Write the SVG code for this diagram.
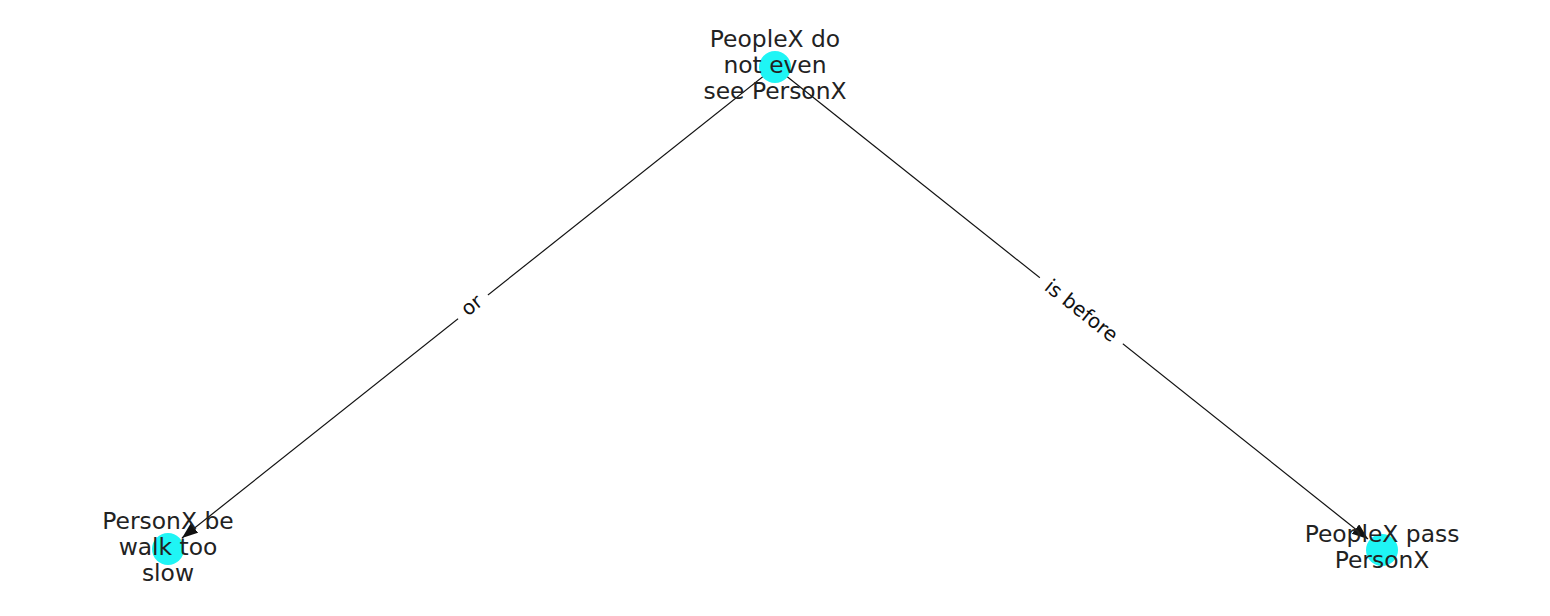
<svg xmlns="http://www.w3.org/2000/svg" width="1550" height="616" viewBox="0 0 1550 616">
<style>
.node circle { fill: #1ff5f5; }
.node text { font-family: "DejaVu Sans", sans-serif; font-size: 23.4px; fill: #222; text-anchor: middle; }
.edge line { stroke: #111; stroke-width: 1.2; }
.elabel rect { fill: #fff; }
.elabel text { font-family: "DejaVu Sans", sans-serif; font-size: 20px; fill: #111; text-anchor: middle; }
</style>
<defs>
<marker id="arr" markerUnits="userSpaceOnUse" markerWidth="18" markerHeight="14" refX="16" refY="6" orient="auto">
<path d="M0,0 L16,6 L0,12 Z" fill="#111"/>
</marker>
</defs>
<rect width="1550" height="616" fill="#fff"/>
<g id="edges">
<g class="edge"><line x1="775" y1="67" x2="182" y2="538" marker-end="url(#arr)"/></g>
<g class="edge"><line x1="775" y1="67" x2="1368" y2="539" marker-end="url(#arr)"/></g>
<g class="elabel" transform="translate(471.5,305) rotate(-38.5)"><rect x="-19" y="-12" width="38" height="24"/><text y="7">or</text></g>
<g class="elabel" transform="translate(1081.5,310.5) rotate(38.6)"><rect x="-53" y="-12" width="106" height="24"/><text y="7">is before</text></g>
</g>
<g id="n_top" class="node"><circle cx="775" cy="67" r="16"/><text x="775" y="47">PeopleX do</text><text x="775" y="73">not even</text><text x="775" y="99">see PersonX</text></g>
<g id="n_left" class="node"><circle cx="168" cy="549" r="16"/><text x="168" y="529">PersonX be</text><text x="168" y="555">walk too</text><text x="168" y="581">slow</text></g>
<g id="n_right" class="node"><circle cx="1382" cy="550" r="16"/><text x="1382" y="542">PeopleX pass</text><text x="1382" y="568">PersonX</text></g>
</svg>
